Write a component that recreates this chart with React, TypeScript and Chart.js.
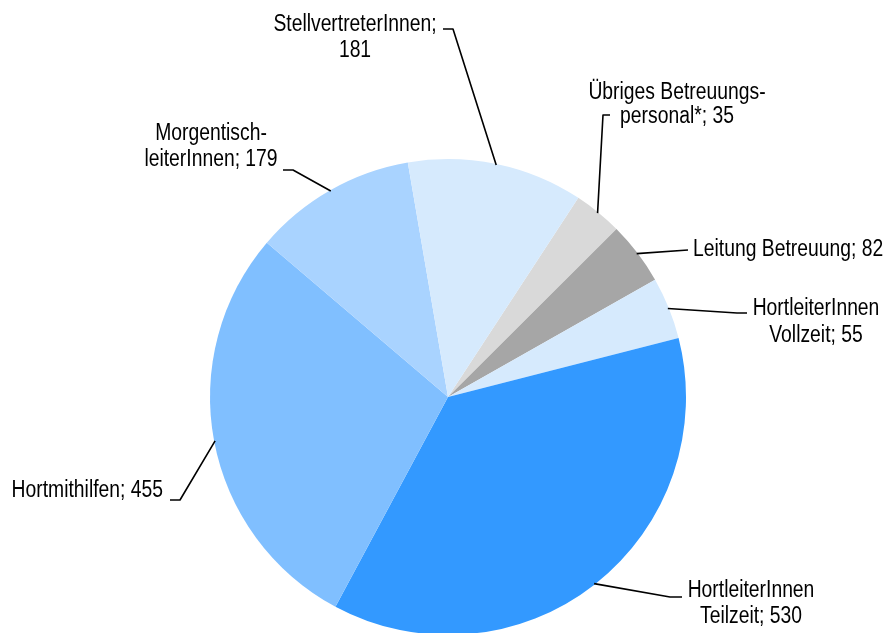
import React, { useEffect, useRef } from "react";
import { Chart, registerables } from "chart.js";

Chart.register(...registerables);

const categories = [
  "Übriges Betreuungspersonal*",
  "Leitung Betreuung",
  "HortleiterInnen Vollzeit",
  "HortleiterInnen Teilzeit",
  "Hortmithilfen",
  "MorgentischleiterInnen",
  "StellvertreterInnen",
];
// values printed in the labels
const labelValues = [35, 82, 55, 530, 455, 179, 181];
// slice sizes as drawn in the picture (measured from slice angles)
const sliceShares = [50, 65, 64, 559, 431, 168, 181];
const colors = ["#D9D9D9", "#A6A6A6", "#D6EAFD", "#3399FF", "#80BFFF", "#A9D3FF", "#D6EAFD"];

const labelLines: string[][] = [
  ["Übriges Betreuungs-", "personal*; " + labelValues[0]],
  ["Leitung Betreuung; " + labelValues[1]],
  ["HortleiterInnen", "Vollzeit; " + labelValues[2]],
  ["HortleiterInnen", "Teilzeit; " + labelValues[3]],
  ["Hortmithilfen; " + labelValues[4]],
  ["Morgentisch-", "leiterInnen; " + labelValues[5]],
  ["StellvertreterInnen;", String(labelValues[6])],
];
// layout: first-line baseline anchor, alignment, line gap, leader path after arc edge
const labelPos: { x: number; y: number; align: CanvasTextAlign; gap: number }[] = [
  { x: 677, y: 99, align: "center", gap: 24 },
  { x: 693, y: 256, align: "left", gap: 26 },
  { x: 816, y: 315, align: "center", gap: 27 },
  { x: 751, y: 597, align: "center", gap: 26 },
  { x: 163, y: 497, align: "right", gap: 26 },
  { x: 211, y: 140, align: "center", gap: 26 },
  { x: 355, y: 31, align: "center", gap: 26 },
];
const leaderPaths: number[][][] = [
  [[603, 115], [610, 115]],
  [[688, 250]],
  [[737, 313], [747, 313]],
  [[670, 597], [682, 597]],
  [[180, 500], [170, 500]],
  [[293, 170], [283, 170]],
  [[453, 29], [443, 29]],
];

const FONT_PX = 23;
const X_SCALE = 0.84;

const labelPlugin = {
  id: "pieLabels",
  afterDatasetsDraw(chart: any) {
    const ctx = chart.ctx;
    const meta = chart.getDatasetMeta(0);
    ctx.save();
    ctx.font = FONT_PX + 'px "Liberation Sans", Arial, sans-serif';
    ctx.fillStyle = "#000";
    ctx.strokeStyle = "#000";
    ctx.lineWidth = 1.6;
    ctx.lineJoin = "round";
    ctx.textBaseline = "alphabetic";
    meta.data.forEach((arc: any, i: number) => {
      const p = arc.getProps(["x", "y", "startAngle", "endAngle", "outerRadius"], true);
      const mid = (p.startAngle + p.endAngle) / 2;
      const r = p.outerRadius - 1;
      const sx = p.x + Math.cos(mid) * r;
      const sy = p.y + Math.sin(mid) * r;
      ctx.beginPath();
      ctx.moveTo(sx, sy);
      leaderPaths[i].forEach((pt) => ctx.lineTo(pt[0], pt[1]));
      ctx.stroke();
      const lp = labelPos[i];
      ctx.textAlign = lp.align;
      labelLines[i].forEach((t, j) => {
        ctx.save();
        ctx.translate(lp.x, lp.y + j * lp.gap);
        ctx.scale(X_SCALE, 1);
        ctx.fillText(t, 0, 0);
        ctx.restore();
      });
    });
    ctx.restore();
  },
};

export default function App() {
  const ref = useRef<HTMLCanvasElement | null>(null);
  useEffect(() => {
    document.body.style.margin = "0";
    if (!ref.current) return;
    const chart = new Chart(ref.current, {
      type: "pie",
      data: {
        labels: categories,
        datasets: [
          {
            data: sliceShares,
            backgroundColor: colors,
            borderWidth: 0,
          },
        ],
      },
      options: {
        responsive: false,
        animation: false,
        rotation: 33.2,
        layout: { padding: { top: 159, bottom: 25, left: 210, right: 204 } },
        plugins: {
          legend: { display: false },
          tooltip: { enabled: false },
        },
      },
      plugins: [labelPlugin],
    });
    return () => chart.destroy();
  }, []);
  return (
    <div style={{ width: 890, height: 633, overflow: "hidden", position: "relative", background: "#fff" }}>
      <canvas ref={ref} width={890} height={660} style={{ display: "block" }} />
    </div>
  );
}
